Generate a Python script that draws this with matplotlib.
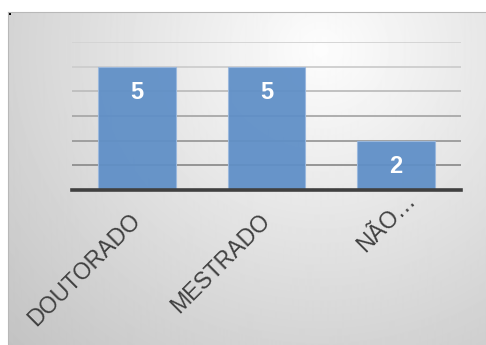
import matplotlib
matplotlib.use('Agg')
import matplotlib.pyplot as plt
import matplotlib.patches as mpatches
import matplotlib.transforms as mtransforms
import numpy as np

categories = ['DOUTORADO', 'MESTRADO', 'NÃO…']
counts = [5, 5, 2]
y_ticks = [0, 1, 2, 3, 4, 5, 6]

W, H, DPI = 486, 345, 100
plt.rcParams['font.family'] = ['Liberation Sans', 'DejaVu Sans']

fig = plt.figure(figsize=(W / DPI, H / DPI), dpi=DPI)
fig.patch.set_facecolor('white')

# ── chart area background: soft radial grey gradient ─────────────────────────
x0, y0 = 8, 12
bg = fig.add_axes([x0 / W, 0, 1 - x0 / W, 1 - y0 / H])
gx, gy = np.meshgrid(np.arange(x0, W), np.arange(y0, H))
d = np.hypot(gx - 320, (gy - 50) * 1.05)
shade = np.clip(253 - d / 430 * 57, 190, 253) / 255
bg.imshow(shade, cmap='gray', vmin=0, vmax=1, aspect='auto',
          extent=[0, 1, 0, 1], interpolation='bilinear')
bg.set_xlim(0, 1)
bg.set_ylim(0, 1)
bg.axis('off')
# thin frame on top and left
fig.add_artist(plt.Line2D([x0 / W, 1], [1 - y0 / H] * 2, color='#b8b8b8', lw=0.8))
fig.add_artist(plt.Line2D([x0 / W] * 2, [0, 1 - y0 / H], color='#b8b8b8', lw=0.8))
fig.add_artist(mpatches.Rectangle((9 / W, 1 - 15 / H), 1.5 / W, 3 / H,
                                  color='black', lw=0))

# ── bars ─────────────────────────────────────────────────────────────────────
ax = fig.add_axes([72 / W, 1 - 190 / H, (461 - 72) / W, (190 - 42) / H])
ax.patch.set_alpha(0)

grid_colors = ['#8e8e8e', '#9a9a9a', '#a8a8a8', '#bdbdbd', '#cdcdcd', '#d3d3d3']
for val, c in zip(y_ticks[1:], grid_colors):
    ax.axhline(val, color=c, lw=1.3, zorder=1)

x = np.arange(len(categories))
bars = ax.bar(x, counts, width=0.6, color='#5f8fc7', alpha=0.94,
              edgecolor='#9ab8de', linewidth=0.8, zorder=2)

for xi, v in zip(x, counts):
    ax.annotate(str(v), (xi, v), xytext=(0, -18.7), textcoords='offset points',
                ha='center', va='center', color='white', fontsize=17,
                fontweight='bold', zorder=3)

ax.set_xlim(-0.5, len(categories) - 0.5)
ax.set_ylim(y_ticks[0], y_ticks[-1])
ax.set_yticks([])
ax.set_xticks(x)
ax.set_xticklabels(categories, rotation=45, ha='right', va='center',
                   rotation_mode='anchor', fontsize=16.6, color='#404040')
ax.tick_params(axis='x', length=0, pad=19.5)
for name, spine in ax.spines.items():
    spine.set_visible(name == 'bottom')
ax.spines['bottom'].set_color('#404040')
ax.spines['bottom'].set_linewidth(2.6)
ax.spines['bottom'].set_zorder(4)

# the truncated label sits further along its own direction
lbl = ax.get_xticklabels()[2]
lbl.set_transform(lbl.get_transform() +
                  mtransforms.ScaledTranslation(0.155, 0.20, fig.dpi_scale_trans))

fig.savefig('out.png', dpi=DPI, facecolor=fig.get_facecolor())
plt.close(fig)
